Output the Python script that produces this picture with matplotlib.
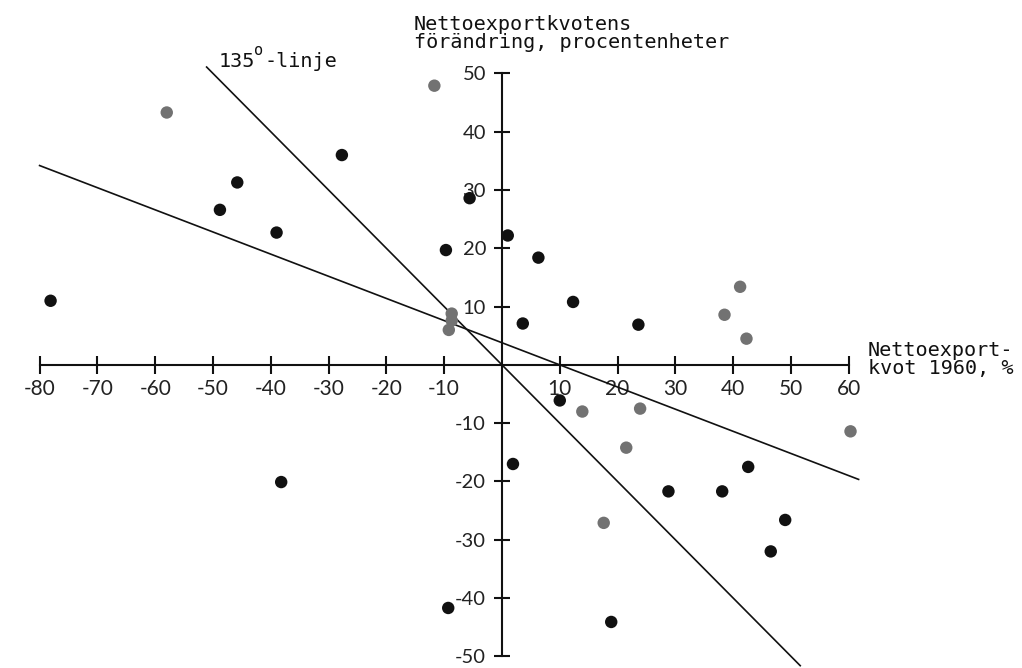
import matplotlib.pyplot as plt
import numpy as np

plt.rcParams["axes.unicode_minus"] = False

# Nettoexportkvot 1960 (x) och förändring i procentenheter (y)
black_x = [-27.7, -45.8, -48.8, -39.0, -78.1, -5.6, -9.7, 1.0, 6.3, 12.3, 3.6,
           23.6, 10.0, 1.9, 28.8, -9.3, 18.9, -38.2, 42.6, 38.1, 49.0, 46.5]
black_y = [36.0, 31.3, 26.6, 22.7, 11.0, 28.6, 19.7, 22.2, 18.4, 10.8, 7.1,
           6.9, -6.1, -17.0, -21.7, -41.7, -44.1, -20.1, -17.5, -21.7, -26.6, -32.0]

grey_x = [-58.0, -11.7, -8.7, -8.7, -9.2, 41.2, 38.5, 42.3, 13.9, 23.9, 21.5,
          17.6, 60.3]
grey_y = [43.3, 47.9, 8.8, 7.6, 6.0, 13.4, 8.6, 4.5, -8.0, -7.5, -14.2,
          -27.1, -11.4]

# regressionslinje och 135-graderslinje
reg_slope, reg_icept = -0.38, 3.8
reg_x = [-80, 61.7]
diag_x = [-51.1, 51.6]

x_ticks = [-80, -70, -60, -50, -40, -30, -20, -10, 10, 20, 30, 40, 50, 60]
y_ticks = [-50, -40, -30, -20, -10, 10, 20, 30, 40, 50]

mono = "DejaVu Sans Mono"
sans = "Lato"

fig = plt.figure(figsize=(10.22, 6.68), dpi=100)
ax = fig.add_axes([0, 0, 1, 1])
ax.set_xlim(-86.85, 89.97)
ax.set_ylim(-52.0, 62.6)

for side in ["top", "right"]:
    ax.spines[side].set_visible(False)
ax.spines["bottom"].set_position(("data", 0))
ax.spines["left"].set_position(("data", 0))
ax.spines["bottom"].set_bounds(-80, 60)
ax.spines["left"].set_bounds(-50, 50)
for side in ["bottom", "left"]:
    ax.spines[side].set_linewidth(1.5)
    ax.spines[side].set_color("#111111")

ax.set_xticks(x_ticks)
ax.set_xticklabels([str(t) for t in x_ticks], fontfamily=sans, fontsize=15)
ax.set_yticks(y_ticks)
ax.set_yticklabels([str(t) for t in y_ticks], fontfamily=sans, fontsize=14.5)
ax.tick_params(axis="x", direction="inout", length=13, width=1.5, pad=4,
               colors="#111111", labelcolor="#222222")
ax.tick_params(axis="y", direction="inout", length=11, width=1.5, pad=6,
               colors="#111111", labelcolor="#222222")

rx = np.array(reg_x)
ax.plot(rx, reg_slope * rx + reg_icept, color="#111111", lw=1.2)
dx = np.array(diag_x)
ax.plot(dx, -dx, color="#111111", lw=1.2)

ax.scatter(grey_x, grey_y, s=80, color="#727272", edgecolors="none", zorder=3)
ax.scatter(black_x, black_y, s=80, color="#111111", edgecolors="none", zorder=4)

fig.text(0.405, 0.978, "Nettoexportkvotens\nförändring, procentenheter",
         fontfamily=mono, fontsize=14.5, va="top", ha="left", linespacing=0.95,
         color="#111111")
fig.text(0.849, 0.462, "Nettoexport-\nkvot 1960, %", fontfamily=mono,
         fontsize=14.5, va="center", ha="left", linespacing=0.95, color="#111111")

# etikett för 135-graderslinjen
fig.text(0.214, 0.9, "135", fontfamily=mono, fontsize=14.5, va="baseline",
         ha="left", color="#111111")
fig.text(0.2485, 0.918, "o", fontfamily=mono, fontsize=11, va="baseline",
         ha="left", color="#111111")
fig.text(0.259, 0.9, "-linje", fontfamily=mono, fontsize=14.5, va="baseline",
         ha="left", color="#111111")

fig.savefig("out.png", dpi=100, facecolor="white")
